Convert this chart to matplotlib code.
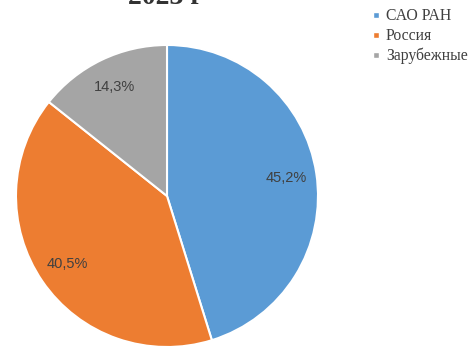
import matplotlib.pyplot as plt
from matplotlib.lines import Line2D

# доли по источникам
labels = ['САО РАН', 'Россия', 'Зарубежные']
values = [45.2, 40.5, 14.3]
colors = ['#5B9BD5', '#ED7D31', '#A5A5A5']

fig = plt.figure(figsize=(4.71, 3.49), dpi=100)
ax = fig.add_axes([16 / 471, 2 / 349, 302 / 471, 302 / 349])

wedges, texts, autotexts = ax.pie(
    values, colors=colors, startangle=90, counterclock=False,
    autopct=lambda p: ('%.1f%%' % p).replace('.', ','), pctdistance=0.8,
    wedgeprops=dict(edgecolor='white', linewidth=1.5))
for t in autotexts:
    t.set_fontsize(10.5)
    t.set_color('#404040')
    t.set_family('Liberation Sans')
ax.set_xlim(-1, 1)
ax.set_ylim(-1, 1)
ax.set_aspect('equal')

# заголовок (обрезан сверху)
fig.text(165 / 471, 1 - 4.5 / 349, '2023 г', ha='center', va='baseline',
         fontsize=20, family='Liberation Serif', fontweight='bold', color='#333333')

handles = [Line2D([0], [0], marker='s', color='w', markerfacecolor=c,
                  markersize=5, linestyle='') for c in colors]
fig.legend(handles, labels, loc='upper left', bbox_to_anchor=(357 / 471, 1 + 6 / 349),
           frameon=False, handlelength=0.6, handletextpad=0.35, labelspacing=0.25,
           prop={'family': 'Liberation Serif', 'size': 11.3}, labelcolor='#404040')

fig.savefig('out.png', dpi=100)
